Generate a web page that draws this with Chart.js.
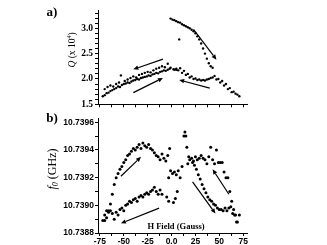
<!DOCTYPE html>
<html>
<head>
<meta charset="utf-8">
<script src="https://cdn.jsdelivr.net/npm/chart.js@4"></script>
<style>
  body { margin: 0; background: #fff; }
  #wrap { position: relative; width: 327px; height: 245px; }
  canvas { position: absolute; left: 0; }
  #qChart { top: 0; }
  #fChart { top: 112px; }
</style>
</head>
<body>
<div id="wrap">
  <canvas id="qChart" width="327" height="112"></canvas>
  <canvas id="fChart" width="327" height="133"></canvas>
</div>
<script>
// ---- panel a) Q factor (x 10^4) ----
const qLowField = [-72,-70,-68,-66,-64,-62,-60,-58,-56,-54,-52,-50,-48,-46,-44,-42,-40,-38,-36,-34,-32,-30,-28,-26,-24,-22,-20,-18,-16,-14,-12,-10,-8,-6,-4,-2];
const qLow = [1.66,1.68,1.72,1.73,1.76,1.78,1.80,1.82,1.85,1.84,1.88,1.90,1.91,1.93,1.92,1.95,1.97,1.98,2.00,1.99,2.02,2.03,2.04,2.05,2.07,2.06,2.09,2.10,2.12,2.11,2.14,2.15,2.17,2.16,2.18,2.20];
const qUpperLeftField = [-70,-67,-64,-61,-58,-55,-53,-49,-46,-43,-40,-37,-34,-31,-28,-25,-22,-19,-16,-13,-10,-7,-4,-1,2,5];
const qUpperLeft = [1.80,1.84,1.87,1.85,1.90,1.93,2.07,1.96,1.99,2.02,2.05,2.03,2.08,2.10,2.12,2.14,2.13,2.17,2.20,2.22,2.25,2.23,2.30,2.22,2.19,2.18];
const qHighField = [-1,1,3,5,7,8,9,11,13,15,17,19,21,23,25,27,29,31,33,35,37,39,41,43];
const qHigh = [3.19,3.17,3.16,3.14,3.12,2.78,3.11,3.08,3.06,3.04,3.02,3.00,2.97,2.94,2.90,2.84,2.78,2.70,2.60,2.50,2.40,2.31,2.25,2.22];
const qRightField = [3,5,7,9,11,13,15,17,19,21,23,25,27,29,31,33,35,37,39,41,43,45,47,49,51,53,55,57,59,61,63,65,67,69,71];
const qRight = [2.18,2.20,2.17,2.21,2.12,2.16,2.08,2.10,2.03,2.05,2.00,2.01,1.98,1.99,1.97,1.98,1.97,1.99,2.00,2.02,2.03,2.06,1.99,2.00,1.93,1.96,1.87,1.90,1.80,1.82,1.74,1.75,1.71,1.69,1.66];
const qTicks = [1.5,1.6,1.7,1.8,1.9,2.0,2.1,2.2,2.3,2.4,2.5,2.6,2.7,2.8,2.9,3.0,3.1,3.2,3.3];
const qTickLabels = ['1.5','','','','','2.0','','','','','2.5','','','','','3.0','','',''];
const qArrowFrom = [[-9,2.39],[-40,1.73],[40,1.82],[23,2.98]];
const qArrowTo = [[-40,2.19],[-9,2.02],[8,1.98],[47,2.38]];

// ---- panel b) resonance frequency f0 (GHz) ----
const fHumpField = [-70,-68,-66,-64,-62,-60,-58,-56,-54,-52,-50,-48,-46,-44,-42,-40,-38,-36,-34,-32,-30,-28,-26,-24,-22,-20,-18,-16,-14,-12,-10,-8,-6,-4,-2];
const fHump = [10.73889,10.73891,10.73896,10.73901,10.73908,10.73915,10.73920,10.73923,10.73926,10.73928,10.73931,10.73933,10.73936,10.73937,10.73939,10.73941,10.73940,10.73942,10.73944,10.73941,10.73945,10.73943,10.73942,10.73944,10.73941,10.73940,10.73938,10.73936,10.73935,10.73933,10.73937,10.73934,10.73932,10.73936,10.73941];
const fLowField = [-72,-70,-68,-66,-64,-62,-60,-58,-56,-54,-52,-50,-48,-46,-44,-42,-40,-38,-36,-34,-32,-30,-28,-26,-24,-22,-20,-18,-16,-14,-12,-10];
const fLow = [10.73889,10.73893,10.73896,10.73895,10.73896,10.73894,10.73890,10.73895,10.73893,10.73897,10.73898,10.73896,10.73900,10.73901,10.73903,10.73902,10.73904,10.73905,10.73903,10.73906,10.73907,10.73906,10.73908,10.73909,10.73908,10.73910,10.73911,10.73913,10.73910,10.73908,10.73911,10.73908];
const fMidField = [-3,-1,1,3,5,7,9,11,-5,-3,2,4,6];
const fMid = [10.73920,10.73925,10.73923,10.73924,10.73922,10.73925,10.73920,10.73928,10.73906,10.73903,10.73902,10.73905,10.73910];
const fPeakField = [13,14,15,16,18];
const fPeak = [10.73950,10.73953,10.73950,10.73942,10.73935];
const fPlateauField = [17,19,21,23,25,27,29,31,33,35,37,39,41,43,45,47,49,51,53,55,57,59,61,63,65,67,69,71];
const fPlateau = [10.73930,10.73933,10.73934,10.73932,10.73935,10.73933,10.73934,10.73936,10.73934,10.73933,10.73930,10.73935,10.73942,10.73933,10.73930,10.73940,10.73931,10.73931,10.73931,10.73924,10.73920,10.73920,10.73910,10.73903,10.73897,10.73893,10.73888,10.73893];
const fDownField = [22,24,26,28,30,32,34,36,38,40,42,44,46,48,50,52,54,56,58,60,62,64,66,68];
const fDown = [10.73931,10.73929,10.73926,10.73922,10.73919,10.73915,10.73912,10.73909,10.73906,10.73904,10.73903,10.73901,10.73900,10.73898,10.73897,10.73897,10.73896,10.73898,10.73896,10.73898,10.73899,10.73894,10.73893,10.73888];
const fTicks = [10.7388,10.7389,10.7390,10.7391,10.7392,10.7393,10.7394,10.7395,10.7396];
const fTickLabels = ['10.7388','','10.7390','','10.7392','','10.7394','','10.7396'];
const fArrowFrom = [[-53,10.73921],[-13,10.73898],[22,10.73917],[60,10.73908]];
const fArrowTo = [[-32,10.73935],[-53,10.73887],[46,10.73894],[43,10.73926]];

// ---- shared field axis ----
const hTicks = [-75,-62.5,-50,-37.5,-25,-12.5,0,12.5,25,37.5,50,62.5,75];
const hTickLabels = ['-75','','-50','','-25','','0.0','','25','','50','','75'];

function pairs(xs, ys) {
    return xs.map((x, i) => ({ x: x, y: ys[i] }));
}

function dotSet(xs, ys, r) {
    return {
        data: pairs(xs, ys),
        backgroundColor: '#000',
        borderColor: '#000',
        pointRadius: r,
        pointBorderWidth: 0,
        showLine: false
    };
}

function arrowPlugin(from, to) {
    return {
        id: 'arrows',
        afterDatasetsDraw(chart) {
            const ctx = chart.ctx;
            const xs = chart.scales.x, ys = chart.scales.y;
            ctx.save();
            ctx.strokeStyle = '#000';
            ctx.fillStyle = '#000';
            ctx.lineWidth = 1.2;
            from.forEach((p, i) => {
                const x1 = xs.getPixelForValue(p[0]), y1 = ys.getPixelForValue(p[1]);
                const x2 = xs.getPixelForValue(to[i][0]), y2 = ys.getPixelForValue(to[i][1]);
                const a = Math.atan2(y2 - y1, x2 - x1);
                const hl = 5, hw = 2.2;
                const bx = x2 - hl * Math.cos(a), by = y2 - hl * Math.sin(a);
                ctx.beginPath();
                ctx.moveTo(x1, y1);
                ctx.lineTo(bx, by);
                ctx.stroke();
                ctx.beginPath();
                ctx.moveTo(x2, y2);
                ctx.lineTo(bx + hw * Math.sin(a), by - hw * Math.cos(a));
                ctx.lineTo(bx - hw * Math.sin(a), by + hw * Math.cos(a));
                ctx.closePath();
                ctx.fill();
            });
            ctx.restore();
        }
    };
}

// draws a list of text pieces centred on (cx, cy), optionally rotated
function drawPieces(ctx, cx, cy, rot, pieces) {
    ctx.save();
    ctx.translate(cx, cy);
    ctx.rotate(rot);
    ctx.fillStyle = '#000';
    ctx.textBaseline = 'middle';
    ctx.textAlign = 'left';
    let total = 0;
    pieces.forEach(p => { ctx.font = p.font; p.w = ctx.measureText(p.text).width; total += p.w; });
    let x = -total / 2;
    pieces.forEach(p => {
        ctx.font = p.font;
        ctx.fillText(p.text, x, p.dy || 0);
        x += p.w;
    });
    ctx.restore();
}

const qLabels = {
    id: 'qLabels',
    afterDraw(chart) {
        const ctx = chart.ctx;
        drawPieces(ctx, 52, 13, 0, [{ text: 'a)', font: 'bold 13px "Liberation Serif"' }]);
        drawPieces(ctx, 72, 50, -Math.PI / 2, [
            { text: 'Q', font: 'italic 9.5px "Liberation Serif"' },
            { text: ' (x 10', font: '9.5px "Liberation Serif"' },
            { text: '4', font: '6px "Liberation Serif"', dy: -3 },
            { text: ')', font: '9.5px "Liberation Serif"' }
        ]);
    }
};

const fLabels = {
    id: 'fLabels',
    afterDraw(chart) {
        const ctx = chart.ctx;
        drawPieces(ctx, 52, 7, 0, [{ text: 'b)', font: 'bold 13px "Liberation Serif"' }]);
        drawPieces(ctx, 53, 57, -Math.PI / 2, [
            { text: 'f', font: 'italic 12px "Liberation Serif"' },
            { text: '0', font: 'italic 8px "Liberation Serif"', dy: 3 },
            { text: ' (GHz)', font: '12px "Liberation Serif"' }
        ]);
        drawPieces(ctx, 176, 115, 0, [{ text: 'H Field (Gauss)', font: 'bold 8.5px "Liberation Serif"' }]);
    }
};

function axisGrid() {
    return {
        display: true,
        drawOnChartArea: false,
        drawTicks: true,
        tickLength: 3,
        tickColor: '#000',
        tickWidth: 1
    };
}

function fieldAxis(showLabels, height) {
    return {
        type: 'linear',
        min: -77,
        max: 79,
        afterBuildTicks: s => { s.ticks = hTicks.map(v => ({ value: v })); },
        afterFit: s => { s.height = height; },
        border: { display: true, color: '#000', width: 1 },
        grid: axisGrid(),
        ticks: {
            display: showLabels,
            autoSkip: false,
            maxRotation: 0,
            padding: 1,
            color: '#000',
            font: { family: '"Liberation Sans"', size: 8.5, weight: 'bold' },
            callback: (v, i) => hTickLabels[i]
        }
    };
}

new Chart(document.getElementById('qChart'), {
    type: 'scatter',
    data: {
        datasets: [
            dotSet(qLowField, qLow, 1.2),
            dotSet(qUpperLeftField, qUpperLeft, 1.2),
            dotSet(qHighField, qHigh, 1.2),
            dotSet(qRightField, qRight, 1.2)
        ]
    },
    options: {
        responsive: false,
        animation: false,
        layout: { padding: { top: 10, right: 80, left: 0, bottom: 0 } },
        plugins: { legend: { display: false }, tooltip: { enabled: false } },
        scales: {
            x: fieldAxis(false, 3),
            y: {
                type: 'linear',
                min: 1.5,
                max: 3.36,
                afterBuildTicks: s => { s.ticks = qTicks.map(v => ({ value: v })); },
                afterFit: s => { s.width = 98; },
                border: { display: true, color: '#000', width: 1 },
                grid: axisGrid(),
                ticks: {
                    autoSkip: false,
                    padding: 2,
                    color: '#000',
                    font: { family: '"Liberation Serif"', size: 9.5, weight: 'bold' },
                    callback: (v, i) => qTickLabels[i]
                }
            }
        }
    },
    plugins: [arrowPlugin(qArrowFrom, qArrowTo), qLabels]
});

new Chart(document.getElementById('fChart'), {
    type: 'scatter',
    data: {
        datasets: [
            dotSet(fHumpField, fHump, 1.5),
            dotSet(fLowField, fLow, 1.5),
            dotSet(fMidField, fMid, 1.5),
            dotSet(fPeakField, fPeak, 1.5),
            dotSet(fPlateauField, fPlateau, 1.5),
            dotSet(fDownField, fDown, 1.5)
        ]
    },
    options: {
        responsive: false,
        animation: false,
        layout: { padding: { top: 1, right: 80, left: 0, bottom: 0 } },
        plugins: { legend: { display: false }, tooltip: { enabled: false } },
        scales: {
            x: fieldAxis(true, 12),
            y: {
                type: 'linear',
                min: 10.7388,
                max: 10.73963,
                afterBuildTicks: s => { s.ticks = fTicks.map(v => ({ value: v })); },
                afterFit: s => { s.width = 98; },
                border: { display: true, color: '#000', width: 1 },
                grid: axisGrid(),
                ticks: {
                    autoSkip: false,
                    padding: 1,
                    color: '#000',
                    font: { family: '"Liberation Sans"', size: 8.5, weight: 'bold' },
                    callback: (v, i) => fTickLabels[i]
                }
            }
        }
    },
    plugins: [arrowPlugin(fArrowFrom, fArrowTo), fLabels]
});
</script>
</body>
</html>
